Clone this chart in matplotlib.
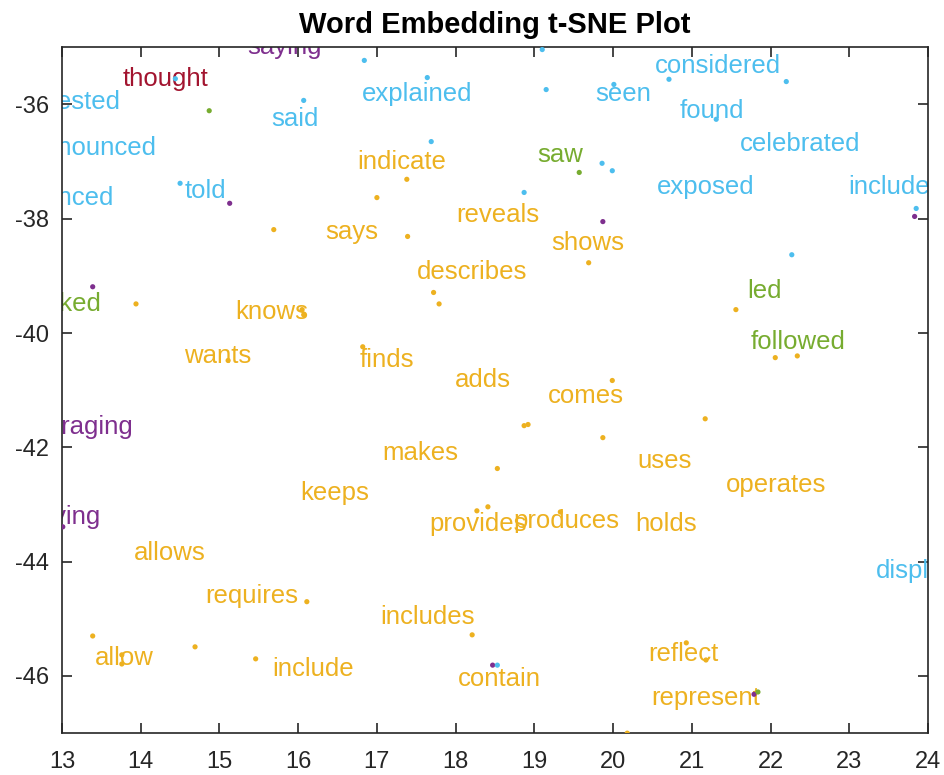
import matplotlib.pyplot as plt

plt.rcParams['font.family'] = ['Liberation Sans', 'DejaVu Sans']
plt.rcParams['axes.unicode_minus'] = False

BLUE = '#4DBEEE'
ORANGE = '#EDB120'
PURPLE = '#7E2F8E'
GREEN = '#77AC30'
RED = '#A2142F'
cmap = {'b': BLUE, 'o': ORANGE, 'p': PURPLE, 'g': GREEN, 'r': RED}

# labelled words (text position in t-SNE space)
words = ['saying', 'thought', 'suggested', 'pronounced', 'announced', 'said', 'explained',
         'seen', 'considered', 'found', 'celebrated', 'exposed', 'included', 'told',
         'indicate', 'saw', 'reveals', 'says', 'shows', 'describes', 'led', 'asked',
         'knows', 'followed', 'wants', 'finds', 'adds', 'comes', 'encouraging', 'makes',
         'uses', 'keeps', 'operates', 'denying', 'provides', 'produces', 'holds', 'allows',
         'displayed', 'requires', 'includes', 'allow', 'include', 'contain', 'reflect',
         'represent']
word_x = [15.83, 14.31, 12.98, 13.34, 12.85, 15.96, 17.51,
          20.13, 21.33, 21.26, 22.37, 21.18, 23.60, 14.82,
          17.32, 19.33, 18.53, 16.68, 19.68, 18.21, 21.92, 13.07,
          15.67, 22.35, 14.98, 17.13, 18.35, 19.66, 13.01, 17.55,
          20.65, 16.47, 22.07, 12.93, 18.28, 19.41, 20.67, 14.37,
          24.03, 15.41, 17.64, 13.79, 16.19, 18.55, 20.89,
          21.17]
word_y = [-35.00, -35.55, -35.95, -36.77, -37.63, -36.26, -35.82,
          -35.82, -35.33, -36.12, -36.70, -37.44, -37.44, -37.51,
          -37.00, -36.89, -37.93, -38.24, -38.42, -38.94, -39.26, -39.49,
          -39.64, -40.15, -40.41, -40.47, -40.83, -41.11, -41.64, -42.09,
          -42.23, -42.80, -42.65, -43.22, -43.34, -43.29, -43.34, -43.85,
          -44.16, -44.60, -44.97, -45.68, -45.88, -46.05, -45.61,
          -46.39]
word_c = ['p', 'r', 'b', 'b', 'b', 'b', 'b',
          'b', 'b', 'b', 'b', 'b', 'b', 'b',
          'o', 'g', 'o', 'o', 'o', 'o', 'g', 'g',
          'o', 'g', 'o', 'o', 'o', 'o', 'p', 'o',
          'o', 'o', 'o', 'p', 'o', 'o', 'o', 'o',
          'b', 'o', 'o', 'o', 'o', 'o', 'o',
          'o']

# embedded points
pt_x = [14.44, 14.87, 16.07, 14.50, 15.13, 15.69, 16.84, 17.64, 19.15, 20.01,
        17.69, 17.38, 17.00, 18.87, 19.57, 19.86, 19.99, 19.87, 17.39, 19.69,
        19.10, 20.71, 22.20, 21.31, 23.85, 23.83, 22.27, 13.39, 13.94, 16.05,
        16.07, 15.11, 17.72, 17.79, 16.82, 19.99, 18.87, 18.92, 19.87, 18.53,
        21.56, 22.06, 22.34, 21.17, 13.01, 16.11, 13.39, 14.69, 13.76, 13.76,
        15.46, 18.27, 18.41, 19.33, 18.21, 18.47, 18.53, 20.93, 21.18, 21.79,
        21.84, 20.18]
pt_y = [-35.55, -36.11, -35.93, -37.38, -37.73, -38.19, -35.23, -35.53, -35.74, -35.65,
        -36.65, -37.31, -37.63, -37.54, -37.19, -37.03, -37.16, -38.05, -38.31, -38.77,
        -35.04, -35.56, -35.60, -36.26, -37.82, -37.96, -38.63, -39.19, -39.49, -39.59,
        -39.68, -40.48, -39.29, -39.49, -40.24, -40.83, -41.62, -41.60, -41.83, -42.37,
        -39.59, -40.43, -40.40, -41.50, -43.39, -44.70, -45.30, -45.49, -45.63, -45.79,
        -45.70, -43.11, -43.04, -43.13, -45.28, -45.81, -45.81, -45.42, -45.72, -46.32,
        -46.28, -47.00]
pt_c = ['b', 'g', 'b', 'b', 'p', 'o', 'b', 'b', 'b', 'b',
        'b', 'o', 'o', 'b', 'g', 'b', 'b', 'p', 'o', 'o',
        'b', 'b', 'b', 'b', 'b', 'p', 'b', 'p', 'o', 'o',
        'o', 'o', 'o', 'o', 'o', 'o', 'o', 'o', 'o', 'o',
        'o', 'o', 'o', 'o', 'p', 'o', 'o', 'o', 'o', 'o',
        'o', 'o', 'o', 'o', 'o', 'p', 'b', 'o', 'o', 'p',
        'g', 'o']

fig = plt.figure(figsize=(9.45, 7.75), dpi=100)
ax = fig.add_axes([0.0656, 0.054, 0.9164, 0.885])

ax.scatter(pt_x, pt_y, s=14, c=[cmap[k] for k in pt_c], linewidths=0, zorder=3)
for w, x, y, k in zip(words, word_x, word_y, word_c):
    ax.text(x, y, w, color=cmap[k], fontsize=18.5, ha='center', va='center',
            clip_on=True, zorder=2)

ax.set_xlim(13, 24)
ax.set_ylim(-47, -35)
ax.set_xticks(range(13, 25))
ax.set_yticks(range(-46, -35, 2))
ax.tick_params(direction='in', top=True, right=True, labelsize=17,
               colors='#262626', length=7, width=1.2)
ax.tick_params(axis='x', pad=13)
ax.tick_params(axis='y', pad=9)
for s in ax.spines.values():
    s.set_color('#262626')
    s.set_linewidth(1.2)
ax.set_title('Word Embedding t-SNE Plot', fontsize=21, fontweight='bold', pad=10)

fig.savefig('out.png', dpi=100)
